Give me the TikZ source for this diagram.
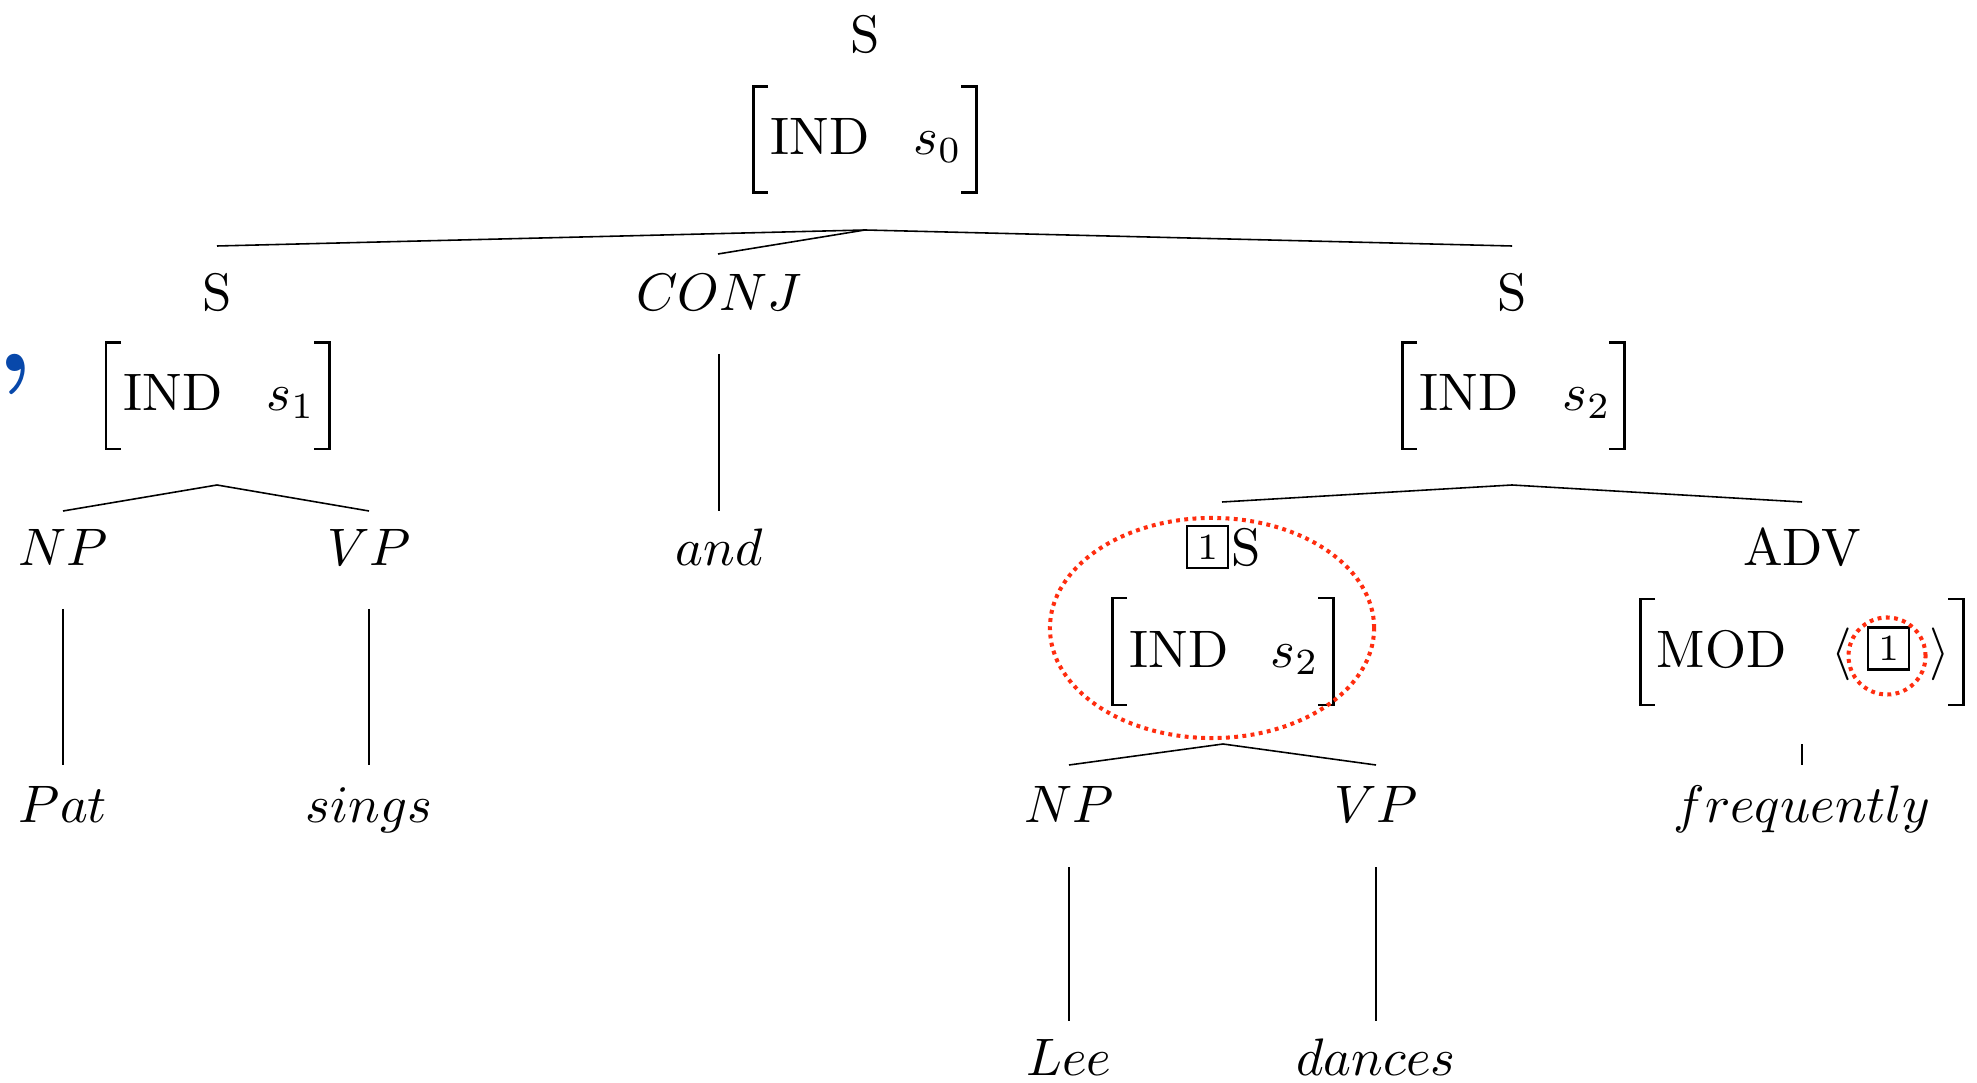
\documentclass[tikz,border=0pt]{standalone}
\usepackage{graphicx}
\definecolor{ringred}{RGB}{255,45,15}
\definecolor{commablue}{RGB}{8,72,170}
\newcommand{\bt}[1]{\scalebox{1.5}{#1}}
\newcommand{\brkpair}[4]{%
  \draw[brk] (#1+15,#3) -- (#1,#3) -- (#1,#4) -- (#1+15,#4);
  \draw[brk] (#2-15,#3) -- (#2,#3) -- (#2,#4) -- (#2-15,#4);}
\begin{document}
\begin{tikzpicture}[x=0.01cm,y=-0.01cm,
  lbl/.style={font=\normalsize, inner sep=0pt, anchor=base},
  avmtxt/.style={font=\normalsize, inner sep=0pt, anchor=base west},
  brk/.style={line width=0.85pt, line cap=butt, line join=miter},
  edge/.style={line width=0.45pt},
  tagbox/.style={draw, line width=0.7pt, inner sep=0pt, minimum width=0.41cm, minimum height=0.42cm, font=\scriptsize},
  ring/.style={draw=ringred, line width=1.15pt, dash pattern=on 1.1pt off 1.25pt}]
\useasboundingbox (0,0) rectangle (1977,1083);

% stray blue comma
\node[inner sep=0pt, text=commablue, font=\fontsize{34}{34}\selectfont\bfseries] (comma) at (15,374) {,};

% ---- root
\node[lbl] (S0) at (865,53) {\bt{S}};
\brkpair{753}{976}{87}{193}
\node[avmtxt] (ind0) at (770,155) {\bt{IND}};
\node[avmtxt] (s0) at (913,155) {\bt{$s_0$}};

% ---- level 2
\node[lbl] (SL) at (217,311) {\bt{S}};
\brkpair{106}{329}{343}{449}
\node[avmtxt] (indL) at (123,411) {\bt{IND}};
\node[avmtxt] (s1) at (266,411) {\bt{$s_1$}};

\node[lbl] (conj) at (719,311) {\bt{$CONJ$}};

\node[lbl] (SR) at (1512,311) {\bt{S}};
\brkpair{1402}{1624}{343}{449}
\node[avmtxt] (indR) at (1419,411) {\bt{IND}};
\node[avmtxt] (s2) at (1562,411) {\bt{$s_2$}};

% ---- level 3
\node[lbl] (np1) at (63,566) {\bt{$NP$}};
\node[lbl] (vp1) at (369,566) {\bt{$VP$}};
\node[lbl] (and) at (719,566) {\bt{$and$}};

\node[tagbox] (tag1) at (1207.5,547) {\bt{1}};
\node[avmtxt] (S1) at (1231,566) {\bt{S}};
\brkpair{1112}{1333}{598}{705}
\node[avmtxt] (indS) at (1129,667) {\bt{IND}};
\node[avmtxt] (s2b) at (1270,667) {\bt{$s_2$}};

\node[lbl] (adv) at (1802,566) {\bt{ADV}};
\brkpair{1640}{1963}{599}{705}
\node[avmtxt] (mod) at (1656,667) {\bt{MOD}};
\node[avmtxt] (lang) at (1831,667) {\bt{$\langle$}};
\node[tagbox] (tag2) at (1888.5,648.5) {\bt{1}};
\node[avmtxt] (rang) at (1929,667) {\bt{$\rangle$}};

% ---- level 4
\node[lbl] (pat) at (63,822) {\bt{$Pat$}};
\node[lbl] (sings) at (369,822) {\bt{$sings$}};
\node[lbl] (np2) at (1069,822) {\bt{$NP$}};
\node[lbl] (vp2) at (1376,822) {\bt{$VP$}};
\node[lbl] (freq) at (1802,822) {\bt{$frequently$}};

% ---- level 5
\node[lbl] (lee) at (1069,1075) {\bt{$Lee$}};
\node[lbl] (dances) at (1376,1075) {\bt{$dances$}};

% ---- connector end points
\coordinate (a0) at (865,230);
\coordinate (tSL) at (217,246);
\coordinate (tconj) at (718,254);
\coordinate (tSR) at (1512,246);
\coordinate (bconj) at (719,354);
\coordinate (uand) at (719,511);
\coordinate (aL) at (217,485);
\coordinate (tnp1) at (63,511);
\coordinate (tvp1) at (369,511);
\coordinate (bnp1) at (63,609);
\coordinate (upat) at (63,765);
\coordinate (bvp1) at (369,609);
\coordinate (usings) at (369,765);
\coordinate (aR) at (1512,485);
\coordinate (tS1) at (1222,502);
\coordinate (tadv) at (1802,502);
\coordinate (aS1) at (1223,744);
\coordinate (tnp2) at (1069,765);
\coordinate (tvp2) at (1376,765);
\coordinate (badv) at (1802,744);
\coordinate (ufreq) at (1802,765);
\coordinate (bnp2) at (1069,867);
\coordinate (ulee) at (1069,1021);
\coordinate (bvp2) at (1376,867);
\coordinate (udances) at (1376,1021);

\draw[edge] (tSL) -- (a0) -- (tSR);
\draw[edge] (a0) -- (tconj);
\draw[edge] (bconj) -- (uand);
\draw[edge] (tnp1) -- (aL) -- (tvp1);
\draw[edge] (bnp1) -- (upat);
\draw[edge] (bvp1) -- (usings);
\draw[edge] (tS1) -- (aR) -- (tadv);
\draw[edge] (tnp2) -- (aS1) -- (tvp2);
\draw[edge] (badv) -- (ufreq);
\draw[edge] (bnp2) -- (ulee);
\draw[edge] (bvp2) -- (udances);

% ---- red dotted rings
\draw[ring] (1212,628) ellipse [x radius=1.62cm, y radius=1.10cm];
\draw[ring] (1887,656) circle [radius=0.385cm];
\end{tikzpicture}
\end{document}
